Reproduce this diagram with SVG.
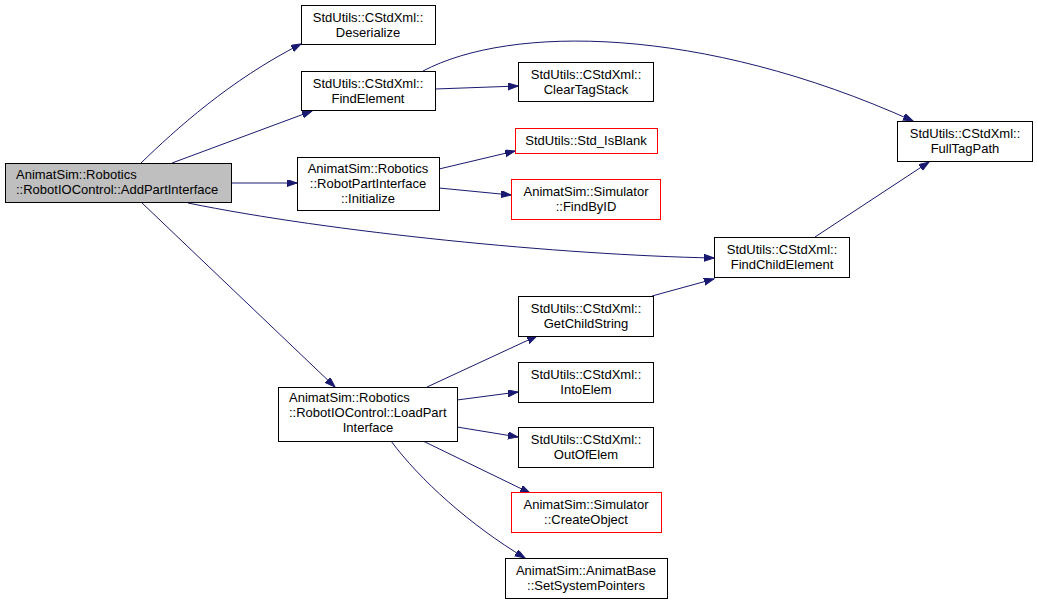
<svg xmlns="http://www.w3.org/2000/svg" width="1037" height="604" viewBox="0 0 1037 604">
<style>
.n rect{fill:#ffffff;stroke:#000000;stroke-width:1}
.n.red rect{stroke:#ff0000}
.n.root rect{fill:#bfbfbf}
text{font-family:"Liberation Sans",Arial,sans-serif;font-size:13px;fill:#000000}
.c{text-anchor:middle}
#edges path{fill:none;stroke:#191970;stroke-width:1;marker-end:url(#arr)}
</style>
<defs>
<marker id="arr" markerUnits="userSpaceOnUse" markerWidth="11" markerHeight="8" refX="10" refY="3.5" orient="auto">
<path d="M0,0 L10,3.5 L0,7 z" fill="#191970" stroke="#191970" stroke-width="1"/>
</marker>
</defs>
<rect width="1037" height="604" fill="#ffffff"/>
<g id="edges">
<path d="M141,163 C175,130 230,80 301,44"/>
<path d="M172,163 L312,111"/>
<path d="M231,183 L297,183"/>
<path d="M188,203 C330,232 560,255 714,258"/>
<path d="M141,202 L335,387"/>
<path d="M423,71 C510,25 700,25 913,121"/>
<path d="M435,89 L518,86"/>
<path d="M439,169 L515,151"/>
<path d="M439,188 L511,195"/>
<path d="M815,237 L929,162"/>
<path d="M652,296 L714,279"/>
<path d="M427,387 L537,336"/>
<path d="M457,400 L518,392"/>
<path d="M457,427 L518,437"/>
<path d="M423,441 L530,493"/>
<path d="M391,441 C420,480 470,525 525,558"/>
</g>
<g id="root" class="n root"><rect x="5.5" y="163.5" width="226" height="39"/><text x="16" y="179">AnimatSim::Robotics</text><text x="16" y="194">::RobotIOControl::AddPartInterface</text></g>
<g id="deserialize" class="n"><rect x="301.5" y="5.5" width="134" height="39"/><text class="c" x="368" y="22">StdUtils::CStdXml::</text><text class="c" x="368" y="37">Deserialize</text></g>
<g id="findelement" class="n"><rect x="301.5" y="71.5" width="134" height="39"/><text class="c" x="368" y="88">StdUtils::CStdXml::</text><text class="c" x="368" y="103">FindElement</text></g>
<g id="cleartagstack" class="n"><rect x="518.5" y="62.5" width="135" height="39"/><text class="c" x="586" y="79">StdUtils::CStdXml::</text><text class="c" x="586" y="94">ClearTagStack</text></g>
<g id="isblank" class="n red"><rect x="515.5" y="128.5" width="142" height="25"/><text class="c" x="586" y="145">StdUtils::Std_IsBlank</text></g>
<g id="initialize" class="n"><rect x="297.5" y="157.5" width="142" height="53"/><text class="c" x="368" y="173">AnimatSim::Robotics</text><text class="c" x="368" y="188">::RobotPartInterface</text><text class="c" x="368" y="203">::Initialize</text></g>
<g id="findbyid" class="n red"><rect x="511.5" y="179.5" width="149" height="40"/><text class="c" x="586" y="196">AnimatSim::Simulator</text><text class="c" x="586" y="211">::FindByID</text></g>
<g id="fulltagpath" class="n"><rect x="897.5" y="121.5" width="135" height="40"/><text class="c" x="965" y="138">StdUtils::CStdXml::</text><text class="c" x="965" y="153">FullTagPath</text></g>
<g id="findchildelement" class="n"><rect x="714.5" y="237.5" width="135" height="40"/><text class="c" x="782" y="254">StdUtils::CStdXml::</text><text class="c" x="782" y="269">FindChildElement</text></g>
<g id="getchildstring" class="n"><rect x="518.5" y="296.5" width="135" height="40"/><text class="c" x="586" y="313">StdUtils::CStdXml::</text><text class="c" x="586" y="328">GetChildString</text></g>
<g id="intoelem" class="n"><rect x="518.5" y="362.5" width="135" height="40"/><text class="c" x="586" y="379">StdUtils::CStdXml::</text><text class="c" x="586" y="394">IntoElem</text></g>
<g id="loadpartinterface" class="n"><rect x="278.5" y="387.5" width="179" height="54"/><text x="289" y="402">AnimatSim::Robotics</text><text x="289" y="417">::RobotIOControl::LoadPart</text><text class="c" x="368" y="432">Interface</text></g>
<g id="outofelem" class="n"><rect x="518.5" y="427.5" width="135" height="40"/><text class="c" x="586" y="444">StdUtils::CStdXml::</text><text class="c" x="586" y="459">OutOfElem</text></g>
<g id="createobject" class="n red"><rect x="511.5" y="492.5" width="150" height="40"/><text class="c" x="586" y="509">AnimatSim::Simulator</text><text class="c" x="586" y="524">::CreateObject</text></g>
<g id="setsystempointers" class="n"><rect x="505.5" y="558.5" width="162" height="40"/><text class="c" x="586" y="575">AnimatSim::AnimatBase</text><text class="c" x="586" y="590">::SetSystemPointers</text></g>
</svg>
